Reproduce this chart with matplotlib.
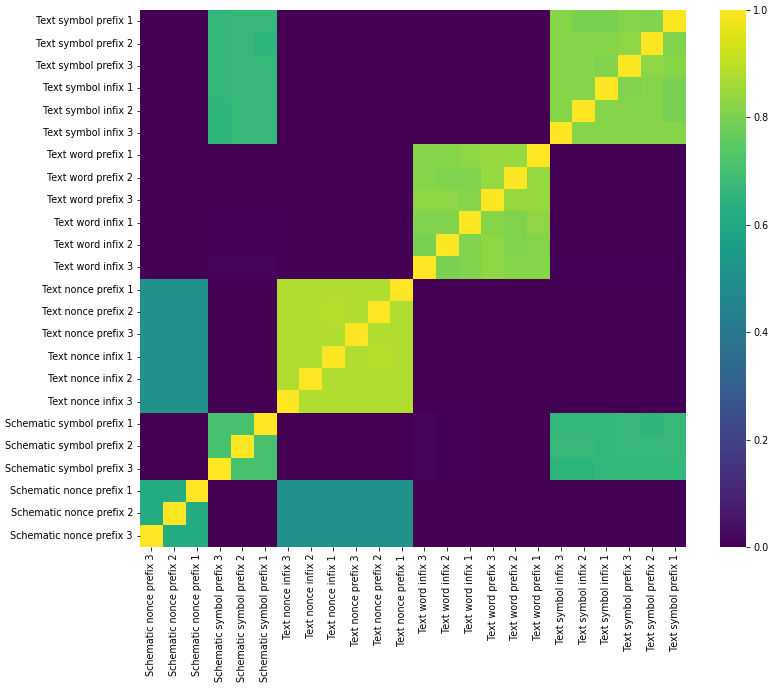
import numpy as np
import matplotlib
matplotlib.use("Agg")
import matplotlib.pyplot as plt
import seaborn as sns

# row labels, top to bottom
row_labels = [
    "Text symbol prefix 1", "Text symbol prefix 2", "Text symbol prefix 3",
    "Text symbol infix 1", "Text symbol infix 2", "Text symbol infix 3",
    "Text word prefix 1", "Text word prefix 2", "Text word prefix 3",
    "Text word infix 1", "Text word infix 2", "Text word infix 3",
    "Text nonce prefix 1", "Text nonce prefix 2", "Text nonce prefix 3",
    "Text nonce infix 1", "Text nonce infix 2", "Text nonce infix 3",
    "Schematic symbol prefix 1", "Schematic symbol prefix 2", "Schematic symbol prefix 3",
    "Schematic nonce prefix 1", "Schematic nonce prefix 2", "Schematic nonce prefix 3",
]
# column labels, left to right
col_labels = row_labels[::-1]

# similarity values as displayed (rows x columns)
similarity = [
    [0, 0, 0, .66, .67, .67, 0, 0, 0, 0, 0, 0, 0, 0, 0, 0, 0, 0, .82, .80, .80, .82, .81, 1.0],
    [0, 0, 0, .66, .67, .65, 0, 0, 0, 0, 0, 0, 0, 0, 0, 0, 0, 0, .82, .82, .82, .83, 1.0, .81],
    [0, 0, 0, .66, .67, .67, 0, 0, 0, 0, 0, 0, 0, 0, 0, 0, 0, 0, .82, .82, .81, 1.0, .83, .82],
    [0, 0, 0, .66, .67, .67, 0, 0, 0, 0, 0, 0, 0, 0, 0, 0, 0, 0, .82, .82, 1.0, .81, .82, .80],
    [0, 0, 0, .65, .67, .67, 0, 0, 0, 0, 0, 0, 0, 0, 0, 0, 0, 0, .82, 1.0, .82, .82, .82, .80],
    [0, 0, 0, .65, .67, .67, 0, 0, 0, 0, 0, 0, 0, 0, 0, 0, 0, 0, 1.0, .82, .82, .82, .82, .82],
    [0, 0, 0, 0, 0, 0, 0, 0, 0, 0, 0, 0, .82, .82, .83, .84, .84, 1.0, 0, 0, 0, 0, 0, 0],
    [0, 0, 0, 0, 0, 0, 0, 0, 0, 0, 0, 0, .82, .81, .81, .84, 1.0, .84, 0, 0, 0, 0, 0, 0],
    [0, 0, 0, 0, 0, 0, 0, 0, 0, 0, 0, 0, .83, .83, .82, 1.0, .84, .84, 0, 0, 0, 0, 0, 0],
    [0, 0, 0, .006, .006, .006, 0, 0, 0, 0, 0, 0, .81, .81, 1.0, .82, .81, .83, 0, 0, 0, 0, 0, 0],
    [0, 0, 0, .006, .006, .006, 0, 0, 0, 0, 0, 0, .80, 1.0, .81, .83, .81, .82, 0, 0, 0, 0, 0, 0],
    [0, 0, 0, .012, .012, .012, 0, 0, 0, 0, 0, 0, 1.0, .80, .81, .83, .82, .82, .005, .005, .005, .005, .005, .005],
    [.50, .50, .50, 0, 0, 0, .88, .88, .88, .88, .88, 1.0, 0, 0, 0, 0, 0, 0, 0, 0, 0, 0, 0, 0],
    [.50, .50, .50, 0, 0, 0, .88, .88, .89, .88, 1.0, .88, 0, 0, 0, 0, 0, 0, 0, 0, 0, 0, 0, 0],
    [.50, .50, .50, 0, 0, 0, .88, .88, .88, 1.0, .88, .88, 0, 0, 0, 0, 0, 0, 0, 0, 0, 0, 0, 0],
    [.50, .51, .50, 0, 0, 0, .88, .88, 1.0, .88, .89, .88, 0, 0, 0, 0, 0, 0, 0, 0, 0, 0, 0, 0],
    [.50, .51, .50, 0, 0, 0, .88, 1.0, .88, .88, .88, .88, 0, 0, 0, 0, 0, 0, 0, 0, 0, 0, 0, 0],
    [.50, .51, .51, 0, 0, 0, 1.0, .88, .88, .88, .88, .88, 0, 0, 0, 0, 0, 0, 0, 0, 0, 0, 0, 0],
    [0, 0, 0, .71, .71, 1.0, 0, 0, 0, 0, 0, 0, .012, .006, .006, 0, 0, 0, .66, .66, .66, .67, .65, .67],
    [0, 0, 0, .71, 1.0, .71, 0, 0, 0, 0, 0, 0, .012, .006, .006, 0, 0, 0, .67, .67, .66, .67, .67, .67],
    [0, 0, 0, 1.0, .71, .71, 0, 0, 0, 0, 0, 0, .012, .006, .006, 0, 0, 0, .65, .65, .66, .66, .66, .66],
    [.61, .61, 1.0, 0, 0, 0, .50, .50, .50, .50, .50, .50, 0, 0, 0, 0, 0, 0, 0, 0, 0, 0, 0, 0],
    [.61, 1.0, .61, 0, 0, 0, .50, .50, .50, .50, .50, .50, 0, 0, 0, 0, 0, 0, 0, 0, 0, 0, 0, 0],
    [1.0, .61, .61, 0, 0, 0, .50, .50, .50, .50, .50, .50, 0, 0, 0, 0, 0, 0, 0, 0, 0, 0, 0, 0],
]

fig = plt.figure(figsize=(775 / 72, 689 / 72), dpi=72)
ax = fig.add_axes([140 / 775, 142 / 689, 546 / 775, 537 / 689])
cax = fig.add_axes([720 / 775, 142 / 689, 26 / 775, 537 / 689])

sns.heatmap(np.array(similarity), ax=ax, cbar_ax=cax, cmap="viridis",
            vmin=0.0, vmax=1.0,
            xticklabels=col_labels, yticklabels=row_labels)

ax.set_xticklabels(col_labels, rotation=90, fontsize=9.6)
ax.set_yticklabels(row_labels, rotation=0, fontsize=9.6)
cax.tick_params(labelsize=9.6)

fig.savefig("out.png", dpi=72)
